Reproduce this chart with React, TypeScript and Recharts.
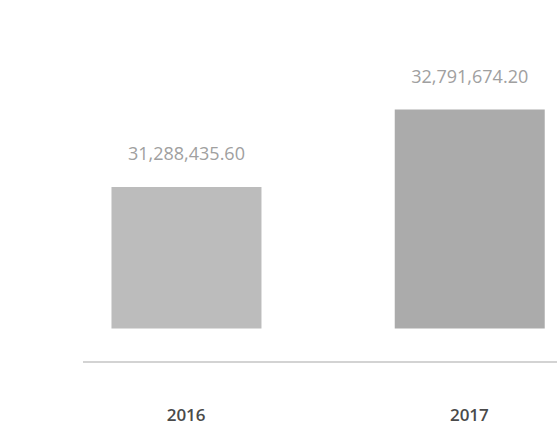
import { BarChart, Bar, XAxis, YAxis, LabelList, Cell } from 'recharts'

const years = [2016, 2017]
const totals = [31288435.6, 32791674.2]
const baseValue = 28550000
const barColors = ['#bcbcbc', '#ababab']

const data = years.map((year, i) => ({
    year,
    range: [baseValue, totals[i]],
    total: totals[i],
}))

const fmt = (v: number) =>
    v.toLocaleString('en-US', { minimumFractionDigits: 2, maximumFractionDigits: 2 })

export default function App() {
    return (
        <div style={{ position: 'absolute', left: 0, top: 0, width: 557, height: 431, overflow: 'hidden', background: '#fff' }}>
            <BarChart
                width={611}
                height={431}
                data={data}
                margin={{ top: 42, right: 0, bottom: 0, left: 83 }}
            >
                <XAxis
                    dataKey="year"
                    type="number"
                    domain={[2015.636, 2017.5]}
                    ticks={years}
                    tickLine={false}
                    axisLine={{ stroke: '#a8a8a8', strokeWidth: 1.2 }}
                    tickMargin={41}
                    height={69}
                    tick={{ fill: '#4a4a4a', fontSize: 17, fontWeight: 600, fontFamily: 'Open Sans' }}
                />
                <YAxis hide domain={[27900000, 34100000]} />
                <Bar dataKey="range" barSize={150} isAnimationActive={false}>
                    {data.map((d, i) => (
                        <Cell key={d.year} fill={barColors[i]} />
                    ))}
                    <LabelList
                        dataKey="total"
                        position="top"
                        offset={27}
                        formatter={(v: number) => fmt(v)}
                        style={{ fill: '#a0a0a0', fontSize: 18, fontFamily: 'Open Sans' }}
                    />
                </Bar>
            </BarChart>
        </div>
    )
}
